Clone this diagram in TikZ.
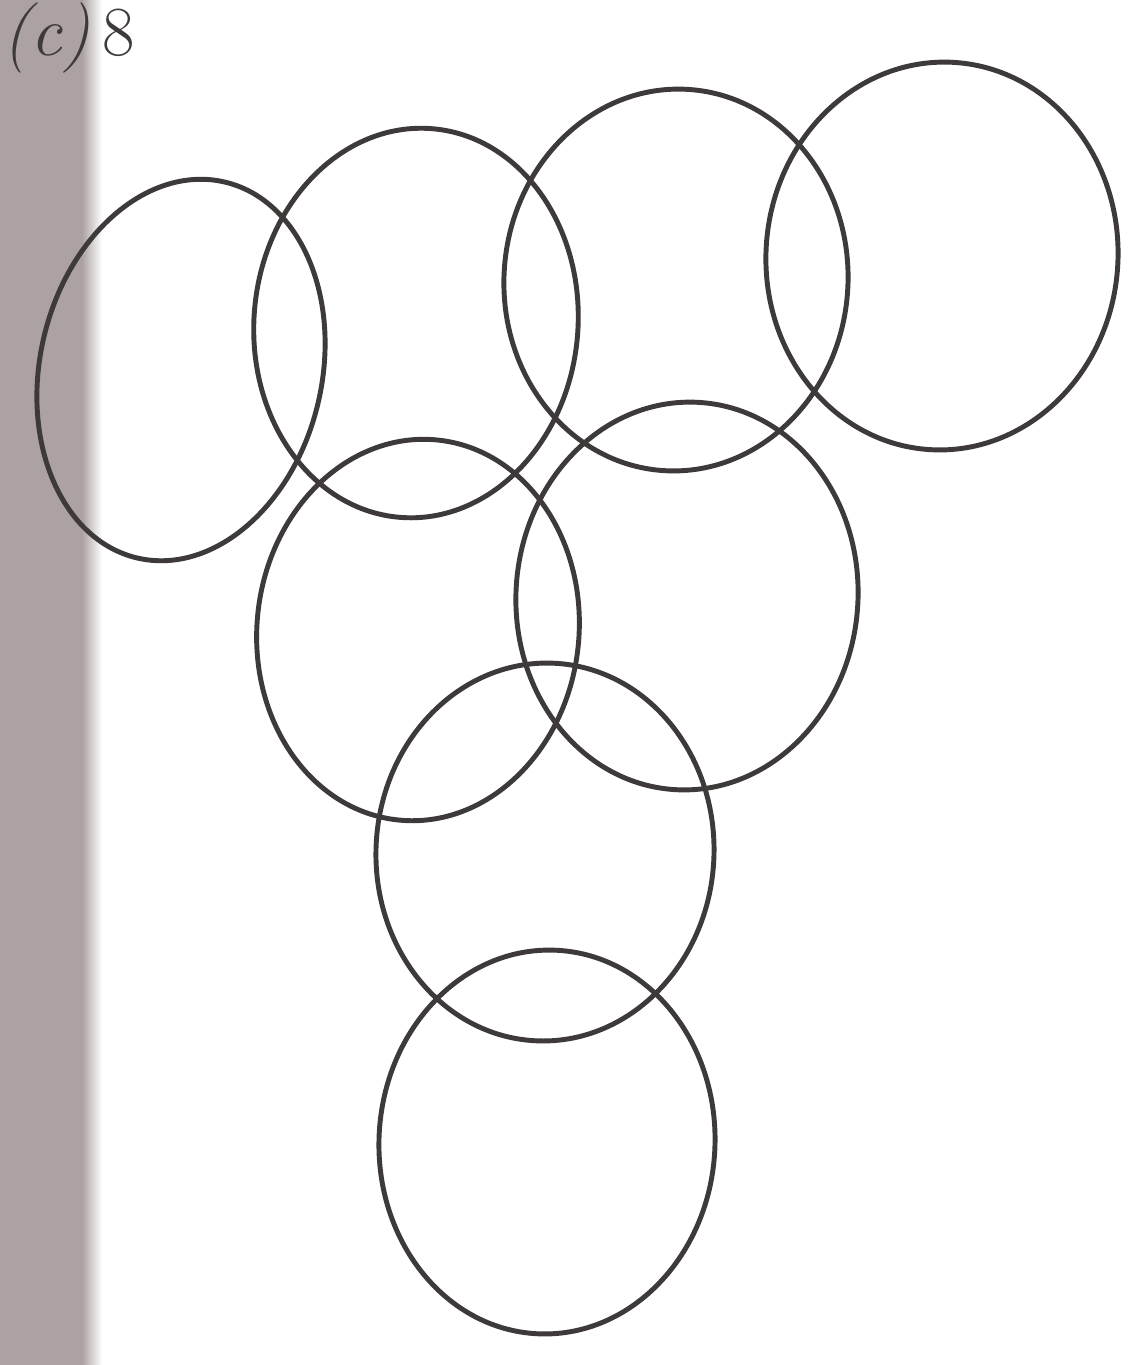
\documentclass[tikz,border=0pt]{standalone}
\usepackage{xcolor}
\usepackage{tikz}
\definecolor{ink}{RGB}{62,58,58}
\definecolor{bandgray}{RGB}{172,162,162}

\begin{document}
\begin{tikzpicture}[x=0.01cm,y=-0.01cm,
  ring/.style={draw=ink,line width=1.4pt},
  label/.style={font=\fontsize{20}{24}\selectfont,text=ink,inner sep=0pt}]
\useasboundingbox (0,0) rectangle (1143,1365);
\fill[white] (0,0) rectangle (1143,1365);
\fill[bandgray] (0,0) rectangle (82,1365);
\shade[left color=bandgray,right color=white] (82,0) rectangle (102,1365);
\node[label,anchor=north west] (tag) at (2,2) {\textit{(c)}\,8};
% top row
\draw[ring,rotate around={-13:(181,370)}] (181,370) ellipse (141 and 193);
\draw[ring,rotate around={-5:(416,323)}] (416,323) ellipse (162 and 195);
\draw[ring,rotate around={-4:(676,280)}] (676,280) ellipse (172 and 191);
\draw[ring,rotate around={-4:(942,256)}] (942,256) ellipse (176 and 194);
% middle row
\draw[ring,rotate around={-6:(418,630)}] (418,630) ellipse (161 and 191);
\draw[ring,rotate around={-4:(687,596)}] (687,596) ellipse (171 and 194);
% bottom
\draw[ring,rotate around={-3:(545,852)}] (545,852) ellipse (169 and 189);
\draw[ring,rotate around={-3:(547,1142)}] (547,1142) ellipse (168 and 192);
\end{tikzpicture}
\end{document}
